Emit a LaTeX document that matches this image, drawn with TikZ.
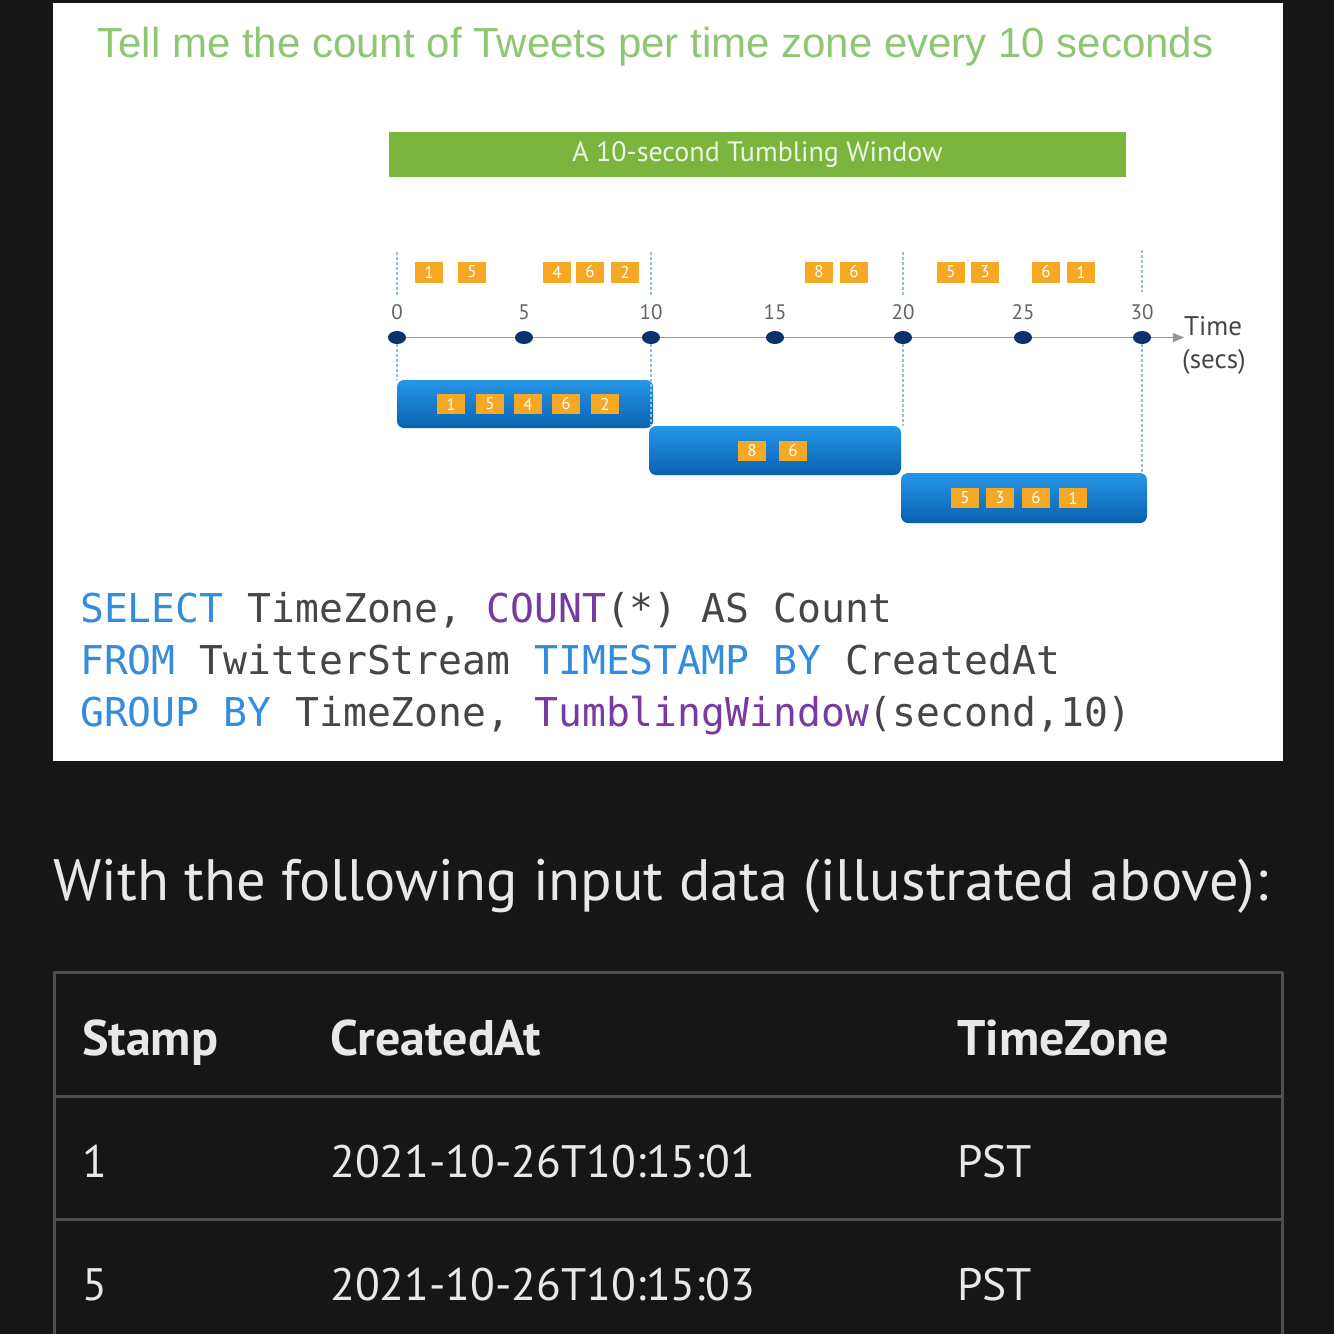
\documentclass[tikz,border=0pt]{standalone}
\usepackage{fontspec}
\setmainfont{PT Sans}
\setmonofont{DejaVu Sans Mono}
\newfontfamily\arialfont{Liberation Sans}
\usepackage{tikz}
\usetikzlibrary{arrows}
\usetikzlibrary{shapes.geometric}
\definecolor{bgdark}{RGB}{22,22,22}
\definecolor{titlegreen}{RGB}{141,199,115}
\definecolor{bargreen}{RGB}{124,181,62}
\definecolor{evtorange}{RGB}{245,168,35}
\definecolor{dotblue}{RGB}{12,50,110}
\definecolor{winlight}{RGB}{38,150,232}
\definecolor{windark}{RGB}{10,96,176}
\definecolor{dashblue}{RGB}{150,190,228}
\definecolor{kwblue}{RGB}{52,140,222}
\definecolor{fnpurple}{RGB}{120,58,160}
\definecolor{codegrey}{RGB}{70,70,70}
\definecolor{tblline}{RGB}{78,78,78}
\definecolor{tbltext}{RGB}{232,232,232}
\def \setfs#1{\fontsize{#1}{#1}\selectfont}
\tikzset{
  evt/.style={fill=evtorange, text=white, minimum width=28pt, minimum height=21pt, inner sep=0pt, font=\setfs{17}},
  tick/.style={ellipse, fill=dotblue, minimum width=18pt, minimum height=13pt, inner sep=0pt},
  ticklbl/.style={text={rgb,255:red,100;green,100;blue,100}, inner sep=0pt, font=\setfs{21}},
  winbox/.style={rounded corners=7pt, top color=winlight, bottom color=windark, minimum height=48pt, inner sep=0pt},
  guide/.style={dashblue, line width=1.2pt, dash pattern=on 3pt off 2pt},
  code/.style={anchor=base west, inner sep=0pt, font=\ttfamily\setfs{39.7}, text=codegrey},
  cell/.style={anchor=base west, inner sep=0pt, text=tbltext, font=\setfs{45.5}},
  head/.style={cell, font=\bfseries\setfs{50}},
  tblrule/.style={tblline, line width=3pt}
}

\begin{document}
\begin{tikzpicture}[line cap=butt,line join=round,>=triangle 45,x=1pt,y=-1pt]
\useasboundingbox (0,0) rectangle (1334,1334);
\fill[bgdark] (0,0) rectangle (1334,1334);
\fill[white] (53,3) rectangle (1283,761);

% heading and window bar
\node[anchor=base, inner sep=0pt, text=titlegreen, font=\arialfont\setfs{42}] (title) at (655.5,57)
  {Tell me the count of Tweets per time zone every 10 seconds};
\node[fill=bargreen, minimum width=737pt, minimum height=45pt, inner sep=0pt,
  text={rgb,255:red,236;green,246;blue,226}, font=\setfs{28}] (bar) at (757.5,154.5) {A 10-second Tumbling Window};

% guides
\coordinate (g0a) at (397,252); \coordinate (g0b) at (397,296);
\coordinate (g1a) at (651,252); \coordinate (g1b) at (651,296);
\coordinate (g2a) at (903,252); \coordinate (g2b) at (903,296);
\coordinate (g3a) at (1142,250); \coordinate (g3b) at (1142,292);
\draw[guide] (g0a) -- (g0b);
\draw[guide] (g1a) -- (g1b);
\draw[guide] (g2a) -- (g2b);
\draw[guide] (g3a) -- (g3b);

% time axis
\coordinate (axstart) at (397,337.5);
\coordinate (axend) at (1184,337.5);
\draw[->, line width=1.6pt, color={rgb,255:red,150;green,150;blue,150}] (axstart) -- (axend);
\foreach \x/\t in {397/0,524/5,651/10,775/15,903/20,1023/25,1142/30}{
  \node[tick] (t\t) at (\x,337.5) {};
  \node[ticklbl] (l\t) at (\x,312) {\t};
}
\node[anchor=base west, inner sep=0pt, text={rgb,255:red,70;green,70;blue,70}, font=\setfs{27}] (tm) at (1184,335) {Time};
\node[anchor=base west, inner sep=0pt, text={rgb,255:red,70;green,70;blue,70}, font=\setfs{27}] (secs) at (1182,368) {(secs)};

% windows
\node[winbox, minimum width=256pt] (w1) at (525,404) {};
\node[winbox, minimum width=252pt, minimum height=49pt] (w2) at (775,450.5) {};
\node[winbox, minimum width=246pt, minimum height=50pt] (w3) at (1024,498) {};
\draw[guide] (t0) -- (w1.north west -| t0);
\draw[guide] (t10) -- (w2.north west -| t10);
\draw[guide] (t20) -- (w2.north east -| t20);
\draw[guide] (t30) -- (w3.north east -| t30);

% events
\foreach \x/\n [count=\i] in {429/1,472/5,557/4,590/6,625/2,819/8,854/6,951/5,985/3,1046/6,1081/1}
  \node[evt] (in\i) at (\x,272) {\n};
\foreach \x/\n [count=\i] in {451/1,490/5,528/4,566/6,605/2}
  \node[evt, minimum height=20pt] (wa\i) at (\x,404) {\n};
\foreach \x/\n [count=\i] in {752/8,793/6}
  \node[evt, minimum height=20pt] (wb\i) at (\x,451) {\n};
\foreach \x/\n [count=\i] in {965/5,1000/3,1036/6,1073/1}
  \node[evt, minimum height=20pt] (wc\i) at (\x,498) {\n};

% query
\node[code] (sql1) at (80,622) {\textcolor{kwblue}{SELECT} TimeZone, \textcolor{fnpurple}{COUNT}(*) AS Count};
\node[code] (sql2) at (80,674) {\textcolor{kwblue}{FROM} TwitterStream \textcolor{kwblue}{TIMESTAMP BY} CreatedAt};
\node[code] (sql3) at (80,726) {\textcolor{kwblue}{GROUP BY} TimeZone, \textcolor{fnpurple}{TumblingWindow}(second,10)};

% input data
\node[anchor=base west, inner sep=0pt, text=tbltext, font=\setfs{58.4}] (intro) at (53,900) {With the following input data (illustrated above):};
\draw[tblrule] (54,1334) -- (54,972) -- (1282,972) -- (1282,1334);
\draw[tblrule] (54,1096) -- (1282,1096);
\draw[tblrule] (54,1219) -- (1282,1219);
\node[head] (hs) at (82,1055) {Stamp};
\node[head] (hc) at (330,1055) {CreatedAt};
\node[head] (hz) at (957,1055) {TimeZone};
\node[cell] (r1s) at (82,1177) {1};
\node[cell] (r1c) at (330,1177) {2021-10-26T10:15:01};
\node[cell] (r1z) at (957,1177) {PST};
\node[cell] (r2s) at (82,1300) {5};
\node[cell] (r2c) at (330,1300) {2021-10-26T10:15:03};
\node[cell] (r2z) at (957,1300) {PST};
\end{tikzpicture}
\end{document}
